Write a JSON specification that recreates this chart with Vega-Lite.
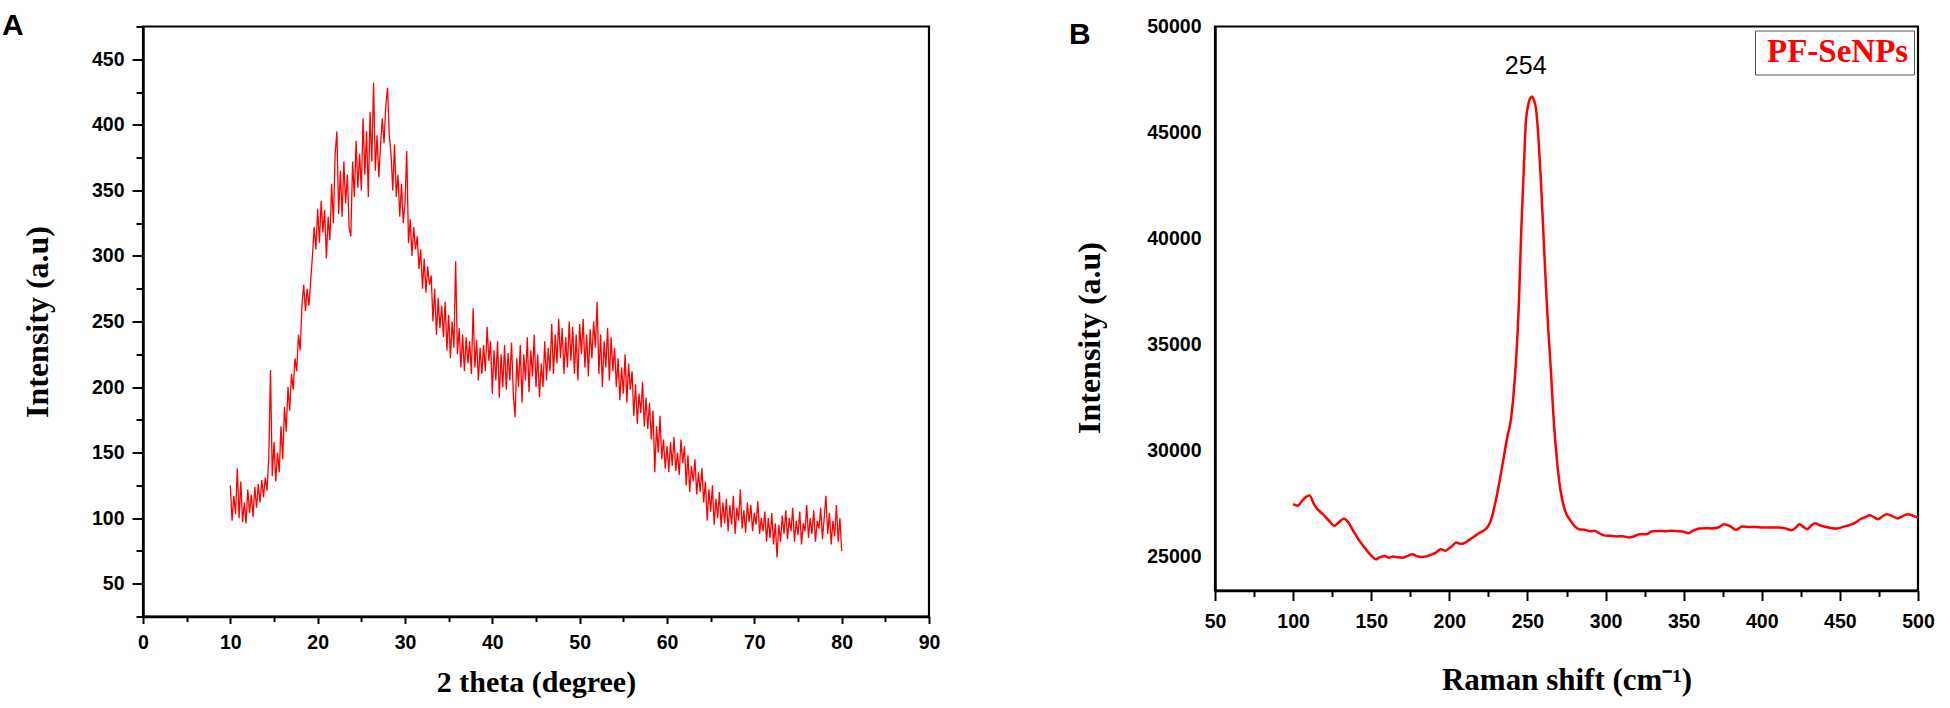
{
  "$schema": "https://vega.github.io/schema/vega-lite/v6.json",
  "background": "white",
  "padding": {"left": 0, "top": 9.5, "right": 0, "bottom": 0},
  "bounds": "flush",
  "spacing": 286,
  "datasets": {
    "xrd": [
      {"theta":10,"intensity":125},{"theta":10.2,"intensity":98},{"theta":10.4,"intensity":117},{"theta":10.6,"intensity":103},{"theta":10.8,"intensity":138},
      {"theta":11,"intensity":100},{"theta":11.2,"intensity":128},{"theta":11.4,"intensity":97},{"theta":11.6,"intensity":112},{"theta":11.8,"intensity":96},
      {"theta":12,"intensity":122},{"theta":12.2,"intensity":104},{"theta":12.4,"intensity":118},{"theta":12.6,"intensity":101},{"theta":12.8,"intensity":124},
      {"theta":13,"intensity":108},{"theta":13.2,"intensity":126},{"theta":13.4,"intensity":112},{"theta":13.6,"intensity":129},{"theta":13.8,"intensity":116},
      {"theta":14,"intensity":131},{"theta":14.2,"intensity":121},{"theta":14.4,"intensity":146},{"theta":14.6,"intensity":213},{"theta":14.8,"intensity":132},
      {"theta":15,"intensity":158},{"theta":15.2,"intensity":128},{"theta":15.4,"intensity":150},{"theta":15.6,"intensity":135},{"theta":15.8,"intensity":170},
      {"theta":16,"intensity":145},{"theta":16.2,"intensity":185},{"theta":16.4,"intensity":166},{"theta":16.6,"intensity":200},{"theta":16.8,"intensity":182},
      {"theta":17,"intensity":210},{"theta":17.2,"intensity":198},{"theta":17.4,"intensity":222},{"theta":17.6,"intensity":212},{"theta":17.8,"intensity":240},
      {"theta":18,"intensity":228},{"theta":18.2,"intensity":262},{"theta":18.4,"intensity":278},{"theta":18.6,"intensity":258},{"theta":18.8,"intensity":275},
      {"theta":19,"intensity":262},{"theta":19.2,"intensity":281},{"theta":19.4,"intensity":300},{"theta":19.6,"intensity":322},{"theta":19.8,"intensity":305},
      {"theta":20,"intensity":336},{"theta":20.2,"intensity":310},{"theta":20.4,"intensity":342},{"theta":20.6,"intensity":318},{"theta":20.8,"intensity":335},
      {"theta":21,"intensity":298},{"theta":21.2,"intensity":330},{"theta":21.4,"intensity":312},{"theta":21.6,"intensity":355},{"theta":21.8,"intensity":325},
      {"theta":22,"intensity":378},{"theta":22.2,"intensity":395},{"theta":22.4,"intensity":332},{"theta":22.6,"intensity":365},{"theta":22.8,"intensity":330},
      {"theta":23,"intensity":372},{"theta":23.2,"intensity":340},{"theta":23.4,"intensity":362},{"theta":23.6,"intensity":322},{"theta":23.8,"intensity":315},
      {"theta":24,"intensity":372},{"theta":24.2,"intensity":345},{"theta":24.4,"intensity":388},{"theta":24.6,"intensity":352},{"theta":24.8,"intensity":378},
      {"theta":25,"intensity":350},{"theta":25.2,"intensity":405},{"theta":25.4,"intensity":362},{"theta":25.6,"intensity":395},{"theta":25.8,"intensity":345},
      {"theta":26,"intensity":410},{"theta":26.2,"intensity":372},{"theta":26.4,"intensity":432},{"theta":26.6,"intensity":365},{"theta":26.8,"intensity":392},
      {"theta":27,"intensity":360},{"theta":27.2,"intensity":385},{"theta":27.4,"intensity":405},{"theta":27.6,"intensity":386},{"theta":27.8,"intensity":415},
      {"theta":28,"intensity":428},{"theta":28.2,"intensity":392},{"theta":28.4,"intensity":378},{"theta":28.6,"intensity":350},{"theta":28.8,"intensity":385},
      {"theta":29,"intensity":345},{"theta":29.2,"intensity":362},{"theta":29.4,"intensity":330},{"theta":29.6,"intensity":355},{"theta":29.8,"intensity":325},
      {"theta":30,"intensity":340},{"theta":30.2,"intensity":380},{"theta":30.4,"intensity":310},{"theta":30.6,"intensity":328},{"theta":30.8,"intensity":300},
      {"theta":31,"intensity":322},{"theta":31.2,"intensity":305},{"theta":31.4,"intensity":315},{"theta":31.6,"intensity":290},{"theta":31.8,"intensity":305},
      {"theta":32,"intensity":275},{"theta":32.2,"intensity":298},{"theta":32.4,"intensity":272},{"theta":32.6,"intensity":292},{"theta":32.8,"intensity":278},
      {"theta":33,"intensity":285},{"theta":33.2,"intensity":250},{"theta":33.4,"intensity":275},{"theta":33.6,"intensity":240},{"theta":33.8,"intensity":268},
      {"theta":34,"intensity":245},{"theta":34.2,"intensity":262},{"theta":34.4,"intensity":238},{"theta":34.6,"intensity":265},{"theta":34.8,"intensity":228},
      {"theta":35,"intensity":255},{"theta":35.2,"intensity":222},{"theta":35.4,"intensity":250},{"theta":35.6,"intensity":230},{"theta":35.8,"intensity":296},
      {"theta":36,"intensity":225},{"theta":36.2,"intensity":245},{"theta":36.4,"intensity":215},{"theta":36.6,"intensity":240},{"theta":36.8,"intensity":212},
      {"theta":37,"intensity":238},{"theta":37.2,"intensity":218},{"theta":37.4,"intensity":235},{"theta":37.6,"intensity":210},{"theta":37.8,"intensity":260},
      {"theta":38,"intensity":215},{"theta":38.2,"intensity":236},{"theta":38.4,"intensity":205},{"theta":38.6,"intensity":230},{"theta":38.8,"intensity":210},
      {"theta":39,"intensity":232},{"theta":39.2,"intensity":212},{"theta":39.4,"intensity":246},{"theta":39.6,"intensity":220},{"theta":39.8,"intensity":235},
      {"theta":40,"intensity":195},{"theta":40.2,"intensity":228},{"theta":40.4,"intensity":205},{"theta":40.6,"intensity":235},{"theta":40.8,"intensity":192},
      {"theta":41,"intensity":225},{"theta":41.2,"intensity":200},{"theta":41.4,"intensity":232},{"theta":41.6,"intensity":198},{"theta":41.8,"intensity":226},
      {"theta":42,"intensity":205},{"theta":42.2,"intensity":234},{"theta":42.4,"intensity":195},{"theta":42.6,"intensity":177},{"theta":42.8,"intensity":222},
      {"theta":43,"intensity":200},{"theta":43.2,"intensity":232},{"theta":43.4,"intensity":188},{"theta":43.6,"intensity":225},{"theta":43.8,"intensity":205},
      {"theta":44,"intensity":238},{"theta":44.2,"intensity":196},{"theta":44.4,"intensity":228},{"theta":44.6,"intensity":208},{"theta":44.8,"intensity":240},
      {"theta":45,"intensity":200},{"theta":45.2,"intensity":225},{"theta":45.4,"intensity":192},{"theta":45.6,"intensity":218},{"theta":45.8,"intensity":200},
      {"theta":46,"intensity":235},{"theta":46.2,"intensity":205},{"theta":46.4,"intensity":230},{"theta":46.6,"intensity":212},{"theta":46.8,"intensity":248},
      {"theta":47,"intensity":210},{"theta":47.2,"intensity":240},{"theta":47.4,"intensity":218},{"theta":47.6,"intensity":252},{"theta":47.8,"intensity":222},
      {"theta":48,"intensity":245},{"theta":48.2,"intensity":210},{"theta":48.4,"intensity":238},{"theta":48.6,"intensity":215},{"theta":48.8,"intensity":250},
      {"theta":49,"intensity":220},{"theta":49.2,"intensity":246},{"theta":49.4,"intensity":210},{"theta":49.6,"intensity":240},{"theta":49.8,"intensity":205},
      {"theta":50,"intensity":248},{"theta":50.2,"intensity":225},{"theta":50.4,"intensity":252},{"theta":50.6,"intensity":215},{"theta":50.8,"intensity":240},
      {"theta":51,"intensity":208},{"theta":51.2,"intensity":244},{"theta":51.4,"intensity":222},{"theta":51.6,"intensity":250},{"theta":51.8,"intensity":230},
      {"theta":52,"intensity":265},{"theta":52.2,"intensity":210},{"theta":52.4,"intensity":240},{"theta":52.6,"intensity":200},{"theta":52.8,"intensity":235},
      {"theta":53,"intensity":215},{"theta":53.2,"intensity":245},{"theta":53.4,"intensity":205},{"theta":53.6,"intensity":238},{"theta":53.8,"intensity":212},
      {"theta":54,"intensity":230},{"theta":54.2,"intensity":200},{"theta":54.4,"intensity":222},{"theta":54.6,"intensity":190},{"theta":54.8,"intensity":215},
      {"theta":55,"intensity":195},{"theta":55.2,"intensity":225},{"theta":55.4,"intensity":188},{"theta":55.6,"intensity":218},{"theta":55.8,"intensity":198},
      {"theta":56,"intensity":212},{"theta":56.2,"intensity":178},{"theta":56.4,"intensity":202},{"theta":56.6,"intensity":172},{"theta":56.8,"intensity":195},
      {"theta":57,"intensity":180},{"theta":57.2,"intensity":204},{"theta":57.4,"intensity":170},{"theta":57.6,"intensity":192},{"theta":57.8,"intensity":168},
      {"theta":58,"intensity":188},{"theta":58.2,"intensity":160},{"theta":58.4,"intensity":182},{"theta":58.6,"intensity":135},{"theta":58.8,"intensity":170},
      {"theta":59,"intensity":150},{"theta":59.2,"intensity":178},{"theta":59.4,"intensity":145},{"theta":59.6,"intensity":160},{"theta":59.8,"intensity":138},
      {"theta":60,"intensity":155},{"theta":60.2,"intensity":135},{"theta":60.4,"intensity":158},{"theta":60.6,"intensity":140},{"theta":60.8,"intensity":162},
      {"theta":61,"intensity":136},{"theta":61.2,"intensity":150},{"theta":61.4,"intensity":133},{"theta":61.6,"intensity":160},{"theta":61.8,"intensity":142},
      {"theta":62,"intensity":155},{"theta":62.2,"intensity":125},{"theta":62.4,"intensity":148},{"theta":62.6,"intensity":120},{"theta":62.8,"intensity":140},
      {"theta":63,"intensity":128},{"theta":63.2,"intensity":145},{"theta":63.4,"intensity":118},{"theta":63.6,"intensity":135},{"theta":63.8,"intensity":120},
      {"theta":64,"intensity":138},{"theta":64.2,"intensity":112},{"theta":64.4,"intensity":128},{"theta":64.6,"intensity":98},{"theta":64.8,"intensity":122},
      {"theta":65,"intensity":105},{"theta":65.2,"intensity":125},{"theta":65.4,"intensity":95},{"theta":65.6,"intensity":115},{"theta":65.8,"intensity":100},
      {"theta":66,"intensity":120},{"theta":66.2,"intensity":93},{"theta":66.4,"intensity":112},{"theta":66.6,"intensity":96},{"theta":66.8,"intensity":115},
      {"theta":67,"intensity":90},{"theta":67.2,"intensity":110},{"theta":67.4,"intensity":95},{"theta":67.6,"intensity":117},{"theta":67.8,"intensity":88},
      {"theta":68,"intensity":108},{"theta":68.2,"intensity":98},{"theta":68.4,"intensity":122},{"theta":68.6,"intensity":92},{"theta":68.8,"intensity":106},
      {"theta":69,"intensity":89},{"theta":69.2,"intensity":112},{"theta":69.4,"intensity":97},{"theta":69.6,"intensity":110},{"theta":69.8,"intensity":90},
      {"theta":70,"intensity":104},{"theta":70.2,"intensity":95},{"theta":70.4,"intensity":113},{"theta":70.6,"intensity":88},{"theta":70.8,"intensity":100},
      {"theta":71,"intensity":90},{"theta":71.2,"intensity":105},{"theta":71.4,"intensity":82},{"theta":71.6,"intensity":100},{"theta":71.8,"intensity":85},
      {"theta":72,"intensity":104},{"theta":72.2,"intensity":80},{"theta":72.4,"intensity":96},{"theta":72.6,"intensity":70},{"theta":72.8,"intensity":95},
      {"theta":73,"intensity":82},{"theta":73.2,"intensity":102},{"theta":73.4,"intensity":88},{"theta":73.6,"intensity":106},{"theta":73.8,"intensity":84},
      {"theta":74,"intensity":100},{"theta":74.2,"intensity":90},{"theta":74.4,"intensity":108},{"theta":74.6,"intensity":82},{"theta":74.8,"intensity":98},
      {"theta":75,"intensity":87},{"theta":75.2,"intensity":105},{"theta":75.4,"intensity":80},{"theta":75.6,"intensity":96},{"theta":75.8,"intensity":90},
      {"theta":76,"intensity":110},{"theta":76.2,"intensity":85},{"theta":76.4,"intensity":100},{"theta":76.6,"intensity":88},{"theta":76.8,"intensity":106},
      {"theta":77,"intensity":82},{"theta":77.2,"intensity":98},{"theta":77.4,"intensity":92},{"theta":77.6,"intensity":108},{"theta":77.8,"intensity":84},
      {"theta":78,"intensity":100},{"theta":78.2,"intensity":117},{"theta":78.4,"intensity":88},{"theta":78.6,"intensity":104},{"theta":78.8,"intensity":80},
      {"theta":79,"intensity":98},{"theta":79.2,"intensity":86},{"theta":79.4,"intensity":110},{"theta":79.6,"intensity":82},{"theta":79.8,"intensity":100},
      {"theta":80,"intensity":75}
    ],
    "raman": [
      {"shift":100,"intensity":27470},{"shift":103,"intensity":27400},{"shift":106,"intensity":27650},{"shift":108,"intensity":27800},
      {"shift":110.5,"intensity":27880},{"shift":113.5,"intensity":27450},{"shift":116,"intensity":27200},{"shift":119,"intensity":27000},
      {"shift":123,"intensity":26690},{"shift":126.5,"intensity":26450},{"shift":129,"intensity":26600},{"shift":132.5,"intensity":26780},
      {"shift":135,"intensity":26650},{"shift":139,"intensity":26150},{"shift":142.5,"intensity":25740},{"shift":146.5,"intensity":25350},
      {"shift":150,"intensity":25050},{"shift":153,"intensity":24870},{"shift":155,"intensity":24950},{"shift":158.5,"intensity":25030},
      {"shift":161,"intensity":24950},{"shift":164,"intensity":25000},{"shift":167,"intensity":24970},{"shift":170,"intensity":24950},
      {"shift":173,"intensity":25020},{"shift":176.5,"intensity":25110},{"shift":179,"intensity":25020},{"shift":182,"intensity":24980},
      {"shift":185,"intensity":25000},{"shift":188,"intensity":25080},{"shift":191.5,"intensity":25190},{"shift":194.5,"intensity":25350},
      {"shift":197.5,"intensity":25270},{"shift":200,"intensity":25400},{"shift":201.5,"intensity":25480},{"shift":204.5,"intensity":25660},
      {"shift":207,"intensity":25600},{"shift":210,"intensity":25650},{"shift":213,"intensity":25800},{"shift":216,"intensity":25950},
      {"shift":219,"intensity":26100},{"shift":222,"intensity":26230},{"shift":225,"intensity":26450},{"shift":227,"intensity":26800},
      {"shift":229,"intensity":27400},{"shift":231,"intensity":28100},{"shift":233,"intensity":28900},{"shift":235,"intensity":29750},
      {"shift":237,"intensity":30600},{"shift":239.5,"intensity":31500},{"shift":241.5,"intensity":33000},{"shift":243,"intensity":34600},
      {"shift":244.5,"intensity":36900},{"shift":246,"intensity":40300},{"shift":247.5,"intensity":43000},{"shift":249,"intensity":45500},
      {"shift":250.5,"intensity":46300},{"shift":252,"intensity":46650},{"shift":253,"intensity":46700},{"shift":254,"intensity":46550},
      {"shift":255.5,"intensity":46100},{"shift":257,"intensity":44800},{"shift":258.5,"intensity":42900},{"shift":260.5,"intensity":39800},
      {"shift":262,"intensity":37500},{"shift":263.5,"intensity":35500},{"shift":265,"intensity":33800},{"shift":266.5,"intensity":31800},
      {"shift":268,"intensity":30300},{"shift":269.5,"intensity":29100},{"shift":271,"intensity":28200},{"shift":273,"intensity":27450},
      {"shift":275,"intensity":27000},{"shift":277,"intensity":26760},{"shift":280,"intensity":26450},{"shift":283,"intensity":26290},
      {"shift":287,"intensity":26260},{"shift":290,"intensity":26200},{"shift":293,"intensity":26220},{"shift":296,"intensity":26100},
      {"shift":299,"intensity":26000},{"shift":303,"intensity":25980},{"shift":307,"intensity":25950},{"shift":311,"intensity":25960},
      {"shift":315,"intensity":25900},{"shift":318,"intensity":25950},{"shift":322,"intensity":26050},{"shift":326,"intensity":26050},
      {"shift":330,"intensity":26200},{"shift":334,"intensity":26210},{"shift":338,"intensity":26200},{"shift":342,"intensity":26220},
      {"shift":347,"intensity":26200},{"shift":350,"intensity":26170},{"shift":353,"intensity":26100},{"shift":356,"intensity":26220},
      {"shift":360,"intensity":26320},{"shift":364,"intensity":26340},{"shift":368,"intensity":26330},{"shift":372,"intensity":26370},
      {"shift":376,"intensity":26530},{"shift":380,"intensity":26420},{"shift":383.5,"intensity":26260},{"shift":387.5,"intensity":26420},
      {"shift":392,"intensity":26400},{"shift":396,"intensity":26400},{"shift":401,"intensity":26370},{"shift":406,"intensity":26370},
      {"shift":411,"intensity":26370},{"shift":415,"intensity":26330},{"shift":419,"intensity":26240},{"shift":422,"intensity":26380},
      {"shift":424,"intensity":26530},{"shift":427,"intensity":26380},{"shift":429,"intensity":26290},{"shift":431.5,"intensity":26450},
      {"shift":434,"intensity":26570},{"shift":437,"intensity":26480},{"shift":440,"intensity":26420},{"shift":444,"intensity":26350},
      {"shift":448,"intensity":26320},{"shift":452,"intensity":26400},{"shift":456,"intensity":26480},{"shift":460,"intensity":26600},
      {"shift":463,"intensity":26760},{"shift":466,"intensity":26850},{"shift":469,"intensity":26950},{"shift":472,"intensity":26850},
      {"shift":474.5,"intensity":26760},{"shift":477,"intensity":26880},{"shift":480,"intensity":27000},{"shift":484,"intensity":26900},
      {"shift":487,"intensity":26800},{"shift":490,"intensity":26900},{"shift":493.5,"intensity":27000},{"shift":497,"intensity":26920},
      {"shift":500,"intensity":26840}
    ],
    "peak": [
      {"shift":254,"intensity":46700}
    ]
  },
  "hconcat": [
    {
      "width": 786,
      "height": 590,
      "title": {"text": "A", "anchor": "start", "frame": "group", "dx": -141, "dy": 42, "offset": -6.5, "baseline": "alphabetic", "font": "Liberation Sans", "fontSize": 30, "fontWeight": "bold", "color": "black"},
      "data": {"name": "xrd"},
      "mark": {"type": "line", "color": "#ff0000", "strokeWidth": 1.3, "clip": true},
      "encoding": {
        "x": {
          "field": "theta",
          "type": "quantitative",
          "scale": {"domain": [0, 90], "nice": false, "zero": false},
          "axis": {
            "title": "2 theta (degree)",
            "values": [0,5,10,15,20,25,30,35,40,45,50,55,60,65,70,75,80,85,90],
            "labelExpr": "datum.value % 10 === 0 ? datum.label : ''",
            "tickSize": {"condition": {"test": "datum.value % 10 === 0", "value": 7}, "value": 5},
            "labelPadding": 10,
            "titlePadding": 15
          }
        },
        "y": {
          "field": "intensity",
          "type": "quantitative",
          "scale": {"domain": [25, 475], "nice": false, "zero": false},
          "axis": {
            "title": "Intensity (a.u)",
            "values": [25,50,75,100,125,150,175,200,225,250,275,300,325,350,375,400,425,450,475],
            "labelExpr": "datum.value % 50 === 0 ? datum.label : ''",
            "tickSize": {"condition": {"test": "datum.value % 50 === 0", "value": 11}, "value": 7},
            "labelPadding": 8,
            "titlePadding": 37
          }
        }
      }
    },
    {
      "width": 703,
      "height": 564,
      "title": {"text": "B", "anchor": "start", "frame": "group", "dx": -146, "dy": 42, "offset": -15.5, "baseline": "alphabetic", "font": "Liberation Sans", "fontSize": 30, "fontWeight": "bold", "color": "black"},
      "data": {"name": "raman"},
      "encoding": {
        "x": {
          "field": "shift",
          "type": "quantitative",
          "scale": {"domain": [50, 500], "nice": false, "zero": false},
          "axis": {
            "title": "Raman shift (cm⁻¹)",
            "titleFontSize": 31,
            "values": [50,75,100,125,150,175,200,225,250,275,300,325,350,375,400,425,450,475,500],
            "labelExpr": "datum.value % 50 === 0 ? datum.label : ''",
            "tickSize": {"condition": {"test": "datum.value % 50 === 0", "value": 10}, "value": 6},
            "labelPadding": 12,
            "titlePadding": 34
          }
        },
        "y": {
          "field": "intensity",
          "type": "quantitative",
          "scale": {"domain": [23400, 50000], "nice": false, "zero": false},
          "axis": {
            "title": "Intensity (a.u)",
            "values": [25000,30000,35000,40000,45000,50000],
            "format": "d",
            "ticks": false,
            "labelPadding": 14,
            "titlePadding": 40,
            "titleY": 311
          }
        }
      },
      "layer": [
        {
          "mark": {"type": "line", "strokeWidth": 2.5, "interpolate": "monotone", "clip": true},
          "encoding": {
            "color": {
              "datum": "PF-SeNPs",
              "scale": {"range": ["#ff0000"]},
              "legend": {
                "title": null,
                "orient": "top-right",
                "offset": 4,
                "padding": 5,
                "symbolSize": 0,
                "symbolOpacity": 0,
                "symbolStrokeWidth": 0,
                "labelOffset": -26,
                "labelFont": "Liberation Serif",
                "labelFontWeight": "bold",
                "labelFontSize": 33,
                "labelColor": "#ff0000",
                "strokeColor": "#555555",
                "fillColor": "white"
              }
            }
          }
        },
        {
          "data": {"name": "peak"},
          "mark": {"type": "text", "dx": -8, "dy": -30, "baseline": "middle", "font": "Liberation Sans", "fontSize": 25, "color": "black"},
          "encoding": {
            "text": {"field": "shift", "type": "quantitative"}
          }
        }
      ]
    }
  ],
  "resolve": {"scale": {"color": "independent"}, "legend": {"color": "independent"}},
  "config": {
    "view": {"stroke": "black", "strokeWidth": 2.2},
    "axis": {
      "grid": false,
      "domainColor": "black",
      "domainWidth": 2.5,
      "tickColor": "black",
      "tickWidth": 2,
      "labelFont": "Liberation Sans",
      "labelFontWeight": "bold",
      "labelFontSize": 19.5,
      "labelColor": "black",
      "labelOverlap": false,
      "labelFlush": false,
      "labelBound": false,
      "titleFont": "Liberation Serif",
      "titleFontWeight": "bold",
      "titleColor": "black"
    },
    "axisY": {"titleFontSize": 32},
    "axisX": {"titleFontSize": 30}
  }
}
